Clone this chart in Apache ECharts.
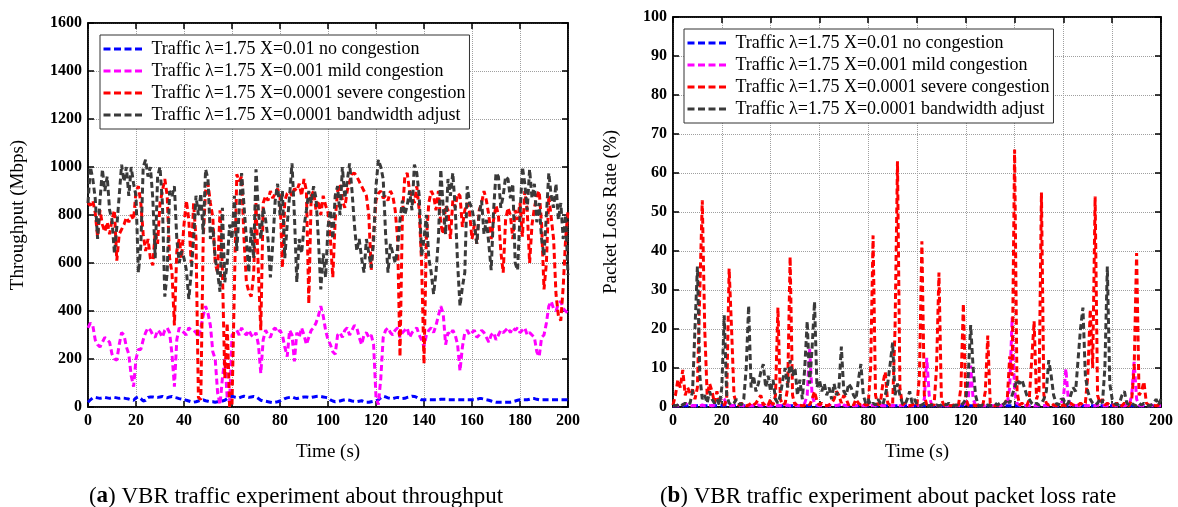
<!DOCTYPE html>
<html>
<head>
<meta charset="utf-8">
<script src="https://cdn.jsdelivr.net/npm/echarts@6.0.0/dist/echarts.min.js"></script>
<style>
  html, body { margin: 0; padding: 0; background: #fff; }
  #chart { width: 1178px; height: 507px; }
</style>
</head>
<body>
<div id="chart"></div>
<script>
// one sample per second, t = 0 .. 200 s
const seriesNames = [
  'Traffic λ=1.75 X=0.01 no congestion',
  'Traffic λ=1.75 X=0.001 mild congestion',
  'Traffic λ=1.75 X=0.0001 severe congestion',
  'Traffic λ=1.75 X=0.0001 bandwidth adjust'
];
const seriesColors = ['#0000ff', '#ff00ff', '#ff0000', '#3a3a3a'];
const timeTicks = [0, 20, 40, 60, 80, 100, 120, 140, 160, 180, 200];

// (a) throughput, Mbps
const blueThroughput = [
  20,30,38,40,38,36,38,40,38,36,38,40,38,36,38,37,35,33,30,28,
  38,42,35,25,28,40,42,42,40,40,42,44,40,38,42,44,40,38,35,33,
  32,28,25,22,20,22,25,28,30,26,24,22,22,20,22,24,25,28,35,40,
  45,42,40,38,42,45,42,40,42,44,42,35,28,25,24,22,20,18,20,22,
  25,30,35,38,40,42,38,35,38,40,42,42,40,40,42,44,45,44,42,40,
  38,30,25,22,24,25,28,30,30,28,25,24,22,24,26,22,20,20,22,24,
  25,30,38,45,42,38,36,35,38,40,38,35,36,40,42,45,44,40,35,30,
  30,30,30,30,30,30,30,32,32,32,30,30,30,30,30,30,30,30,30,30,
  30,30,32,35,35,33,30,28,25,22,20,20,20,20,20,20,20,22,25,28,
  30,30,30,30,32,35,35,32,30,30,30,30,30,30,30,30,30,30,30,30,
  30
];
const magentaThroughput = [
  330,350,340,280,260,250,270,290,280,270,220,200,195,260,310,300,250,220,130,85,
  200,240,240,280,310,330,320,300,290,320,310,290,320,330,310,220,85,280,330,320,
  310,300,330,320,320,310,290,330,380,420,390,340,230,200,60,10,120,200,40,20,
  300,310,320,300,330,310,300,320,300,290,310,260,140,280,320,300,290,320,330,310,
  320,300,250,210,320,300,190,310,290,330,300,260,290,320,330,350,380,420,380,320,
  280,260,230,220,300,310,290,320,330,300,320,340,330,290,260,300,310,290,300,260,
  40,10,120,290,320,330,310,300,320,330,290,310,320,330,290,310,320,330,300,280,
  250,300,320,330,310,340,380,420,390,260,310,300,320,300,260,150,250,310,320,300,
  310,320,290,300,320,310,290,270,300,310,280,300,320,310,320,330,310,330,320,330,
  310,320,330,300,310,300,290,230,210,290,300,350,420,440,410,400,430,440,410,400,
  390
];
const redThroughput = [
  850,840,860,810,710,820,760,730,770,720,780,820,610,720,740,760,790,770,800,780,
  900,920,850,720,650,700,620,590,730,680,850,900,950,880,620,560,340,650,700,620,
  760,860,780,600,850,700,40,30,700,900,930,850,790,600,560,820,570,120,350,0,
  10,500,970,940,960,700,520,480,460,550,850,560,320,850,880,860,900,870,890,910,
  880,580,860,890,900,880,910,900,930,880,950,900,430,880,900,820,860,800,880,840,
  810,700,540,780,900,930,860,830,900,940,970,975,960,940,920,900,880,800,570,720,
  860,890,900,870,880,860,900,880,820,700,210,800,960,975,900,880,850,920,820,600,
  180,700,850,900,880,820,900,760,720,840,820,700,860,830,890,880,750,820,850,810,
  700,760,680,820,850,900,860,800,700,780,840,800,650,560,780,830,800,700,820,780,
  850,710,900,820,600,760,830,880,900,760,490,600,880,790,700,470,380,360,500,700,
  820
];
const blackThroughput = [
  850,1000,950,870,700,860,990,900,960,820,780,640,750,880,1010,940,1000,880,1000,930,
  880,560,670,1000,1030,960,1000,870,620,960,1000,850,460,560,900,880,920,700,600,650,
  620,570,450,560,700,880,800,890,720,990,950,700,750,620,560,480,830,520,600,760,
  700,880,650,820,975,840,700,560,750,620,990,820,700,830,780,700,540,680,860,930,
  800,900,620,760,880,1015,800,520,700,640,750,820,900,850,920,870,700,490,640,540,
  750,820,700,880,920,800,1000,870,940,1015,900,760,650,700,620,560,700,640,580,690,
  920,1030,1000,950,720,560,680,640,600,660,780,860,800,840,900,820,1010,975,880,630,
  700,800,620,560,470,560,700,990,830,720,950,880,975,830,600,420,500,560,920,850,
  830,760,680,805,860,720,780,680,570,820,975,960,830,880,960,950,870,930,600,570,
  800,1000,930,820,990,870,930,770,850,700,630,800,975,880,830,930,780,850,700,800,
  550
];

// (b) packet loss rate, %
const blueLoss = [
  0.3,0.3,0.3,0.3,0.3,0.3,0.3,0.3,0.3,0.3,0.3,0.3,0.3,0.3,0.3,0.3,0.3,0.3,0.3,0.3,
  0.3,0.3,0.3,0.3,0.3,0.3,0.3,0.3,0.3,0.3,0.3,0.3,0.3,0.3,0.3,0.3,0.3,0.3,0.3,0.3,
  0.3,0.3,0.3,0.3,0.3,0.3,0.3,0.3,0.3,0.3,0.3,0.3,0.3,0.3,0.3,0.3,0.3,0.3,0.3,0.3,
  0.3,0.3,0.3,0.3,0.3,0.3,0.3,0.3,0.3,0.3,0.3,0.3,0.3,0.3,0.3,0.3,0.3,0.3,0.3,0.3,
  0.3,0.3,0.3,0.3,0.3,0.3,0.3,0.3,0.3,0.3,0.3,0.3,0.3,0.3,0.3,0.3,0.3,0.3,0.3,0.3,
  0.3,0.3,0.3,0.3,0.3,0.3,0.3,0.3,0.3,0.3,0.3,0.3,0.3,0.3,0.3,0.3,0.3,0.3,0.3,0.3,
  0.3,0.3,0.3,0.3,0.3,0.3,0.3,0.3,0.3,0.3,0.3,0.3,0.3,0.3,0.3,0.3,0.3,0.3,0.3,0.3,
  0.3,0.3,0.3,0.3,0.3,0.3,0.3,0.3,0.3,0.3,0.3,0.3,0.3,0.3,0.3,0.3,0.3,0.3,0.3,0.3,
  0.3,0.3,0.3,0.3,0.3,0.3,0.3,0.3,0.3,0.3,0.3,0.3,0.3,0.3,0.3,0.3,0.3,0.3,0.3,0.3,
  0.3,0.3,0.3,0.3,0.3,0.3,0.3,0.3,0.3,0.3,0.3,0.3,0.3,0.3,0.3,0.3,0.3,0.3,0.3,0.3,
  0.3
];
const magentaLoss = [
  0.3,0.3,0.3,0.4,0.5,1,0.5,0.3,0.3,0.4,0.3,0.3,0.5,0.3,0.3,0.4,0.3,0.5,1,1.5,
  2.5,2,0.5,0.3,0.3,0.4,0.3,0.3,0.5,0.3,0.3,0.3,0.4,0.3,0.3,0.5,0.3,0.3,0.4,0.3,
  0.3,0.5,0.3,0.3,0.4,0.3,0.3,0.5,0.3,0.3,0.4,0.3,0.3,0.5,1,3,15,3,1,0.5,
  0.3,0.4,0.3,0.3,0.5,0.3,0.3,0.4,0.5,1,0.5,0.3,0.3,0.4,0.3,0.3,0.5,0.3,0.3,0.4,
  0.3,0.3,0.5,0.3,0.3,0.4,0.3,0.3,0.5,0.3,0.3,0.4,0.3,0.3,0.5,0.3,0.3,0.4,0.3,0.3,
  0.5,0.3,0.5,2,12.6,3,0.5,0.3,0.4,0.3,0.3,0.5,0.3,0.3,0.4,0.3,0.3,0.5,0.3,0.5,
  1,2,10.6,2,0.5,0.3,0.4,0.3,0.3,0.5,0.3,0.3,0.4,0.3,0.3,0.5,0.5,1,5,23,
  4,1,0.5,0.3,0.4,0.3,0.3,0.5,0.3,0.3,0.4,0.3,0.3,0.5,0.3,0.3,0.4,0.3,0.5,1,
  2,9.8,2,0.5,0.3,0.4,0.3,0.3,0.5,0.3,0.3,0.4,0.3,0.3,0.5,0.3,0.3,0.4,0.3,0.3,
  0.5,0.3,0.3,0.4,0.3,0.3,0.5,0.5,3,11.6,2,0.5,0.3,0.4,0.3,0.3,0.5,0.3,0.3,0.4,
  0.3
];
const redLoss = [
  0.5,3,7,5,9.5,3,5,3.5,4.5,2,5,30,53,20,3,6,4,1,4,1,
  0.5,0.5,2,35.5,20,3,1,0.5,1,0.5,0.3,0.5,1,0.5,1,2,3,0.5,1,0.5,
  2,0.5,3,25.5,2,0.5,1,5,38.5,3,0.5,1,0.5,0.3,0.5,1,0.5,2,4,1.5,
  0.5,1,0.5,0.3,0.5,1,2,4,3,1,3,2,0.5,1,0.5,2,1,0.5,1,0.5,
  0.5,10,44,3,0.5,1,6,9,1,0.5,0.5,20,63,5,0.5,1,0.5,0.3,0.5,1,
  0.5,8,42.5,3,0.5,1,0.5,0.5,10,34.5,2,0.5,0.3,0.5,0.3,0.5,0.3,0.5,5,26.5,
  2,0.5,0.3,0.5,0.3,0.5,0.3,0.5,4,18.3,1,0.5,0.3,0.5,0.3,0.5,1,2,13,8,
  66,4,0.5,1,0.5,0.3,2,12,22,2,4,55,3,1,0.5,1,0.5,0.3,0.5,0.3,
  0.5,0.3,0.5,1,0.5,0.3,0.5,1,0.5,1,8,25,10,54,3,1,2,0.5,1,0.5,
  0.3,0.5,1,0.5,0.3,1,0.5,0.3,2,10,39.5,3,4,6.5,1,0.5,0.3,0.5,0.3,0.5,
  0.3
];
const blackLoss = [
  0.5,0.3,0.5,1,0.5,1,0.5,1,4,20,36,8,2,3,1,4,2,1,2,0.5,
  5,23.5,3,1,0.5,1,2,1,0.5,2,10,26,5,8,4,6,9,11,5,8,
  4,7,2,1,3,7,10,5,12,8,10,3,7,2,10,22,6,15,27,5,
  7,4,6,3,5,2,6,3,5,15.5,4,3,6,5,3,2,7,11,3,1,
  2,0.5,1,0.5,2,1,0.5,3,6,11,16.5,3,6,3,1,0.5,2,4,1,2,
  0.5,0.3,0.5,1,0.5,0.3,0.5,0.3,0.5,0.3,0.5,1,0.5,1,0.5,0.3,0.5,0.3,0.5,1,
  2,8,21,10,3,0.5,0.3,0.5,0.3,0.5,0.3,0.5,1,0.5,1,0.5,1,2,1,3,
  5,7,6,7,5,3,2,1,0.5,1,0.5,1,2,4,12,8,3,1,0.5,2,
  2,0.5,1,3,5,4,12,20,25.5,8,4,2,1,0.5,1,2,1,10,36,6,
  2,1,0.5,1,3,4,1,0.5,1,0.5,0.3,1,0.5,1,0.5,0.3,0.5,1,2,0.5,
  2
];

const serif = "'Liberation Serif', 'Times New Roman', serif";
const step = timeTicks[1] / 20; // seconds per sample

function pairs(values) {
  return values.map((v, i) => [i * step, v]);
}

function xAxes(gridIndex) {
  const common = {
    type: 'value', gridIndex: gridIndex, min: 0, max: 200, interval: 20,
    axisLine: { show: true, onZero: false, lineStyle: { color: '#000', width: 1.5 } },
    axisTick: { show: true, inside: true, length: 6, lineStyle: { color: '#000', width: 1.5 } }
  };
  return [
    Object.assign({}, common, {
      position: 'bottom',
      name: 'Time (s)', nameLocation: 'middle', nameGap: 36,
      nameTextStyle: { fontFamily: serif, fontSize: 19, color: '#000' },
      axisLabel: { fontFamily: serif, fontWeight: 'bold', fontSize: 16, color: '#000', margin: 6,
        formatter: v => String(v) },
      splitLine: { show: true, lineStyle: { color: '#a0a0a0', type: 'dotted', width: 1 } }
    }),
    Object.assign({}, common, {
      position: 'top', axisLabel: { show: false }, splitLine: { show: false }
    })
  ];
}

function yAxes(gridIndex, max, interval, name, nameGap) {
  const common = {
    type: 'value', gridIndex: gridIndex, min: 0, max: max, interval: interval,
    axisLine: { show: true, onZero: false, lineStyle: { color: '#000', width: 1.5 } },
    axisTick: { show: true, inside: true, length: 6, lineStyle: { color: '#000', width: 1.5 } }
  };
  return [
    Object.assign({}, common, {
      position: 'left',
      name: name, nameLocation: 'middle', nameGap: nameGap, nameRotate: 90,
      nameTextStyle: { fontFamily: serif, fontSize: 19, color: '#000' },
      axisLabel: { fontFamily: serif, fontWeight: 'bold', fontSize: 16, color: '#000', margin: 6,
        formatter: v => String(v) },
      splitLine: { show: true, lineStyle: { color: '#a0a0a0', type: 'dotted', width: 1 } }
    }),
    Object.assign({}, common, {
      position: 'right', axisLabel: { show: false }, splitLine: { show: false }
    })
  ];
}

function lineSeries(idx, values, axisIndex) {
  return {
    name: seriesNames[idx],
    type: 'line',
    xAxisIndex: axisIndex,
    yAxisIndex: axisIndex,
    data: pairs(values),
    symbol: 'none',
    showSymbol: false,
    itemStyle: { color: seriesColors[idx] },
    lineStyle: { color: seriesColors[idx], width: 3, type: [6, 3.5] },
    z: 2 + idx
  };
}

function legendAt(left, top) {
  return {
    orient: 'vertical', left: left, top: top,
    backgroundColor: '#fff', borderColor: '#333', borderWidth: 1,
    padding: [5, 4, 5, 2], itemGap: 4, itemWidth: 39, itemHeight: 14,
    itemStyle: { color: 'transparent', borderColor: 'transparent', borderWidth: 0, opacity: 0 },
    lineStyle: { width: 3, type: [7, 3.5] },
    textStyle: { fontFamily: serif, fontSize: 18, lineHeight: 17, color: '#000', padding: [0, 0, 0, 4] },
    data: seriesNames
  };
}

const chart = echarts.init(document.getElementById('chart'));
chart.setOption({
  animation: false,
  backgroundColor: '#fff',
  title: [
    {
      text: '({b|a}) VBR traffic experiment about throughput',
      left: 291, top: 480, textAlign: 'center',
      textStyle: { fontFamily: serif, fontSize: 23, fontWeight: 'normal', color: '#000',
        rich: { b: { fontFamily: serif, fontSize: 23, fontWeight: 'bold', color: '#000' } } }
    },
    {
      text: '({b|b}) VBR traffic experiment about packet loss rate',
      left: 883, top: 480, textAlign: 'center',
      textStyle: { fontFamily: serif, fontSize: 23, fontWeight: 'normal', color: '#000',
        rich: { b: { fontFamily: serif, fontSize: 23, fontWeight: 'bold', color: '#000' } } }
    }
  ],
  legend: [legendAt(100, 35), legendAt(684, 29)],
  grid: [
    { left: 88, top: 23, width: 480, height: 384, show: true, borderColor: '#000', borderWidth: 1.5 },
    { left: 673, top: 17, width: 488, height: 390, show: true, borderColor: '#000', borderWidth: 1.5 }
  ],
  xAxis: xAxes(0).concat(xAxes(1)),
  yAxis: yAxes(0, 1600, 200, 'Throughput (Mbps)', 60)
    .concat(yAxes(1, 100, 10, 'Packet Loss Rate (%)', 52)),
  series: [
    lineSeries(0, blueThroughput, 0),
    lineSeries(1, magentaThroughput, 0),
    lineSeries(2, redThroughput, 0),
    lineSeries(3, blackThroughput, 0),
    lineSeries(0, blueLoss, 2),
    lineSeries(1, magentaLoss, 2),
    lineSeries(2, redLoss, 2),
    lineSeries(3, blackLoss, 2)
  ]
});
</script>
</body>
</html>
